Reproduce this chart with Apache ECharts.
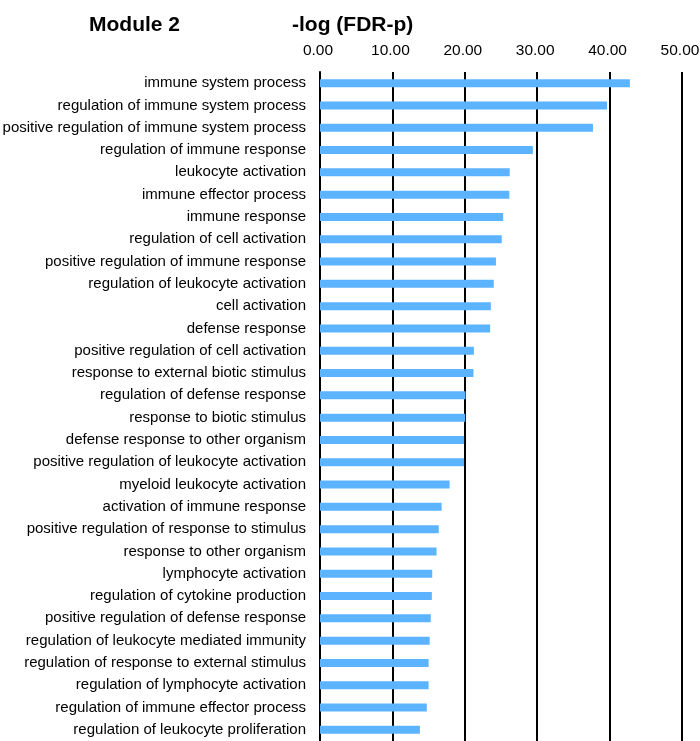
<!DOCTYPE html>
<html>
<head>
<meta charset="utf-8">
<script src="https://cdn.jsdelivr.net/npm/echarts@6/dist/echarts.min.js"></script>
<style>html,body{margin:0;padding:0;background:#fff;overflow:hidden;}#c{width:700px;height:741px;}</style>
</head>
<body>
<div id="c"></div>
<script>
var categories = [
  "immune system process",
  "regulation of immune system process",
  "positive regulation of immune system process",
  "regulation of immune response",
  "leukocyte activation",
  "immune effector process",
  "immune response",
  "regulation of cell activation",
  "positive regulation of immune response",
  "regulation of leukocyte activation",
  "cell activation",
  "defense response",
  "positive regulation of cell activation",
  "response to external biotic stimulus",
  "regulation of defense response",
  "response to biotic stimulus",
  "defense response to other organism",
  "positive regulation of leukocyte activation",
  "myeloid leukocyte activation",
  "activation of immune response",
  "positive regulation of response to stimulus",
  "response to other organism",
  "lymphocyte activation",
  "regulation of cytokine production",
  "positive regulation of defense response",
  "regulation of leukocyte mediated immunity",
  "regulation of response to external stimulus",
  "regulation of lymphocyte activation",
  "regulation of immune effector process",
  "regulation of leukocyte proliferation"
];
var values = [
  42.8, 39.65, 37.7, 29.4, 26.2, 26.15, 25.3, 25.1, 24.3, 24.0,
  23.6, 23.5, 21.25, 21.2, 20.1, 20.05, 19.9, 19.9, 17.9, 16.8,
  16.4, 16.1, 15.5, 15.45, 15.3, 15.15, 15.0, 15.0, 14.75, 13.8
];
var xTicks = [0, 10, 20, 30, 40, 50];
var titleText = "Module 2";
var axisTitle = "-log (FDR-p)";

var chart = echarts.init(document.getElementById('c'), null, {renderer: 'canvas'});
chart.setOption({
  backgroundColor: '#ffffff',
  animation: false,
  title: [
    {text: titleText, left: 84, top: 10,
     textStyle: {fontFamily: 'Liberation Sans', fontWeight: 'bold', fontSize: 21, color: '#000'}},
    {text: axisTitle, left: 287, top: 10,
     textStyle: {fontFamily: 'Liberation Sans', fontWeight: 'bold', fontSize: 21, color: '#000'}}
  ],
  grid: {left: 320, right: 18, top: 72, bottom: 0, containLabel: false, outerBoundsMode: 'none'},
  xAxis: {
    type: 'value', position: 'top',
    min: xTicks[0], max: xTicks[xTicks.length - 1], interval: 10,
    axisLine: {show: false}, axisTick: {show: false},
    axisLabel: {formatter: function (v) { return v.toFixed(2); }, margin: 13,
      padding: [0, 4, 0, 0],
      fontFamily: 'Liberation Sans', fontSize: 15.5, color: '#000'},
    splitLine: {show: true, lineStyle: {color: '#000', width: 2}}
  },
  yAxis: {
    type: 'category', inverse: true, data: categories,
    axisLine: {show: true, lineStyle: {color: '#000', width: 2}},
    axisTick: {show: false},
    axisLabel: {margin: 14, fontFamily: 'Liberation Sans', fontSize: 15, color: '#000'}
  },
  series: [{
    type: 'bar', data: values, barWidth: 8,
    itemStyle: {color: '#5cb3ff'}
  }]
});
</script>
</body>
</html>
